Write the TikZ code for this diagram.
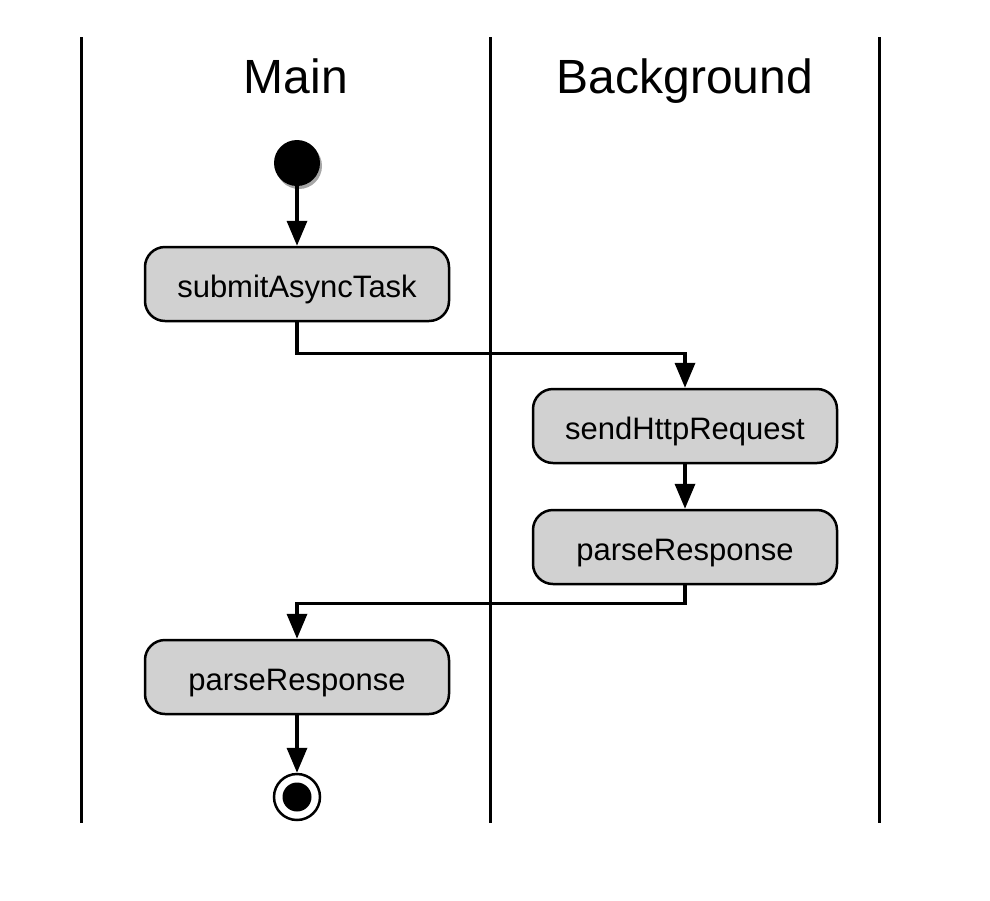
\documentclass[tikz,border=0pt]{standalone}
\usepackage{fontspec}
\setmainfont{Liberation Sans}
\usetikzlibrary{arrows.meta,shadows,calc}
\begin{document}
\begin{tikzpicture}[x=1pt,y=-1pt,
  lane/.style={line width=3pt},
  title/.style={font=\fontsize{48}{52}\selectfont, anchor=base, inner sep=0pt},
  act/.style={draw, line width=2.5pt, fill=black!18, rounded corners=20pt,
    minimum width=304pt, minimum height=74pt, inner sep=0pt,
    text height=32pt, text depth=6pt,
    font=\fontsize{31}{34}\selectfont},
  flow/.style={line width=3.5pt, -{Triangle[length=25pt,width=20pt]}},
  startst/.style={circle, fill=black, minimum size=46pt, inner sep=0pt,
    drop shadow={shadow xshift=2pt, shadow yshift=-3pt, opacity=0.35, fill=black}},
  endst/.style={circle, draw, line width=2.5pt, fill=white, minimum size=46pt, inner sep=0pt},
  endin/.style={circle, fill=black, minimum size=29pt, inner sep=0pt}
]
\useasboundingbox (0,0) rectangle (990,900);
% lanes
\coordinate (l1t) at (81,37);  \coordinate (l1b) at (81,823);
\coordinate (l2t) at (490,37); \coordinate (l2b) at (490,823);
\coordinate (l3t) at (879,37); \coordinate (l3b) at (879,823);
\draw[lane] (l1t) -- (l1b);
\draw[lane] (l2t) -- (l2b);
\draw[lane] (l3t) -- (l3b);
\node[title] (tmain) at (296,93) {Main};
\node[title] (tbg) at (685,93) {Background};
% nodes
\node[startst] (start) at (297,163) {};
\node[act] (submit) at (297,284) {submitAsyncTask};
\node[act] (send) at (685,426) {sendHttpRequest};
\node[act] (parseB) at (685,547) {parseResponse};
\node[act] (parseM) at (297,677) {parseResponse};
\node[endst] (end) at (297,797) {};
\node[endin] (endi) at (297,797) {};
% flows
\draw[flow] (start) -- (submit);
\draw[flow] (submit.south) -- ++(0,31) -| (send.north);
\draw[flow] (send) -- (parseB);
\draw[flow] (parseB.south) -- ++(0,18) -| (parseM.north);
\draw[flow] (parseM) -- (end);
\end{tikzpicture}
\end{document}
